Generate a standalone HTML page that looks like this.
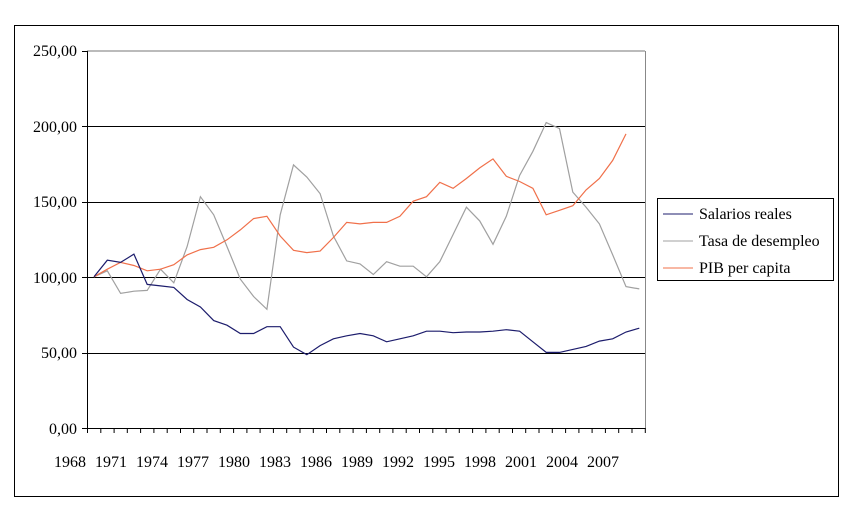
<!DOCTYPE html>
<html><head><meta charset="utf-8"><style>
body{margin:0;background:#fff;width:850px;height:511px;overflow:hidden}
svg{font-family:"Liberation Serif",serif;}
</style></head><body>
<svg id="s" width="850" height="511" xmlns="http://www.w3.org/2000/svg">
<rect x="14.5" y="25.5" width="824" height="471" fill="none" stroke="#000" stroke-width="1"/>
<g stroke="#000" stroke-width="1">
<line x1="87" y1="51" x2="645" y2="51" stroke="#777"/>
<line x1="87" y1="126.5" x2="645" y2="126.5"/>
<line x1="87" y1="202.5" x2="645" y2="202.5"/>
<line x1="87" y1="277.5" x2="645" y2="277.5"/>
<line x1="87" y1="353.5" x2="645" y2="353.5"/>
<line x1="87.5" y1="51" x2="87.5" y2="429"/>
<line x1="645.5" y1="51" x2="645.5" y2="429" stroke="#888"/>
<line x1="82" y1="428.5" x2="645" y2="428.5"/>
<line x1="82" y1="51.5" x2="87" y2="51.5"/>
<line x1="82" y1="126.5" x2="87" y2="126.5"/>
<line x1="82" y1="202.5" x2="87" y2="202.5"/>
<line x1="82" y1="277.5" x2="87" y2="277.5"/>
<line x1="82" y1="353.5" x2="87" y2="353.5"/>
</g>
<g id="ticks" stroke="#000"></g>
<g font-size="16" text-anchor="end" fill="#000">
<text x="77" y="56">250,00</text>
<text x="77" y="132">200,00</text>
<text x="77" y="207">150,00</text>
<text x="77" y="283">100,00</text>
<text x="77" y="358">50,00</text>
<text x="77" y="434">0,00</text>
</g>
<g id="xl" font-size="16" text-anchor="middle"></g>
<polyline id="t" fill="none" stroke="#a0a0a0" stroke-width="1.2"/>
<polyline id="p" fill="none" stroke="#f0704a" stroke-width="1.2"/>
<polyline id="w" fill="none" stroke="#1c1c6c" stroke-width="1.2"/>
<rect x="657.5" y="198.5" width="176" height="82" fill="#fff" stroke="#000"/>
<line x1="663" y1="214" x2="693" y2="214" stroke="#1c1c6c"/>
<line x1="663" y1="241" x2="693" y2="241" stroke="#a0a0a0"/>
<line x1="663" y1="268" x2="693" y2="268" stroke="#f0704a"/>
<g font-size="16"><text x="699" y="219">Salarios reales</text><text x="699" y="246">Tasa de desempleo</text><text x="699" y="273">PIB per capita</text></g>
</svg>
<script>
var W=[100,111,109.5,115,95,94,93,85,80,71,68,62.5,62.5,67,67,53.5,48.5,54.5,59,61,62.5,61,57,59,61,64,64,63,63.5,63.5,64,65,64,57,50,50,52,54,57.5,59,63.5,66];
var T=[100,104,89,90.5,91,105,96,120,153,141,120,98.5,87,78.5,141,174,166,155,127,110.5,108.5,101.5,110,107,107,100,110,128,146,137,121.5,140,167,183,202,198,156,146,135,114.5,93.5,92];
var P=[100,105,109.5,107.5,104,105,108,114.5,118,119.5,124.5,131,138.5,140,127,117.5,116,117,126,136,135,136,136,140,150,153,162.5,158.5,165,172,178,166.5,163,158.5,141,144,147,157.5,165,177,194.5];
function pts(a){return a.map(function(v,i){return (94+13.3*i).toFixed(1)+","+(428-v*1.512).toFixed(1)}).join(" ")}
document.getElementById('w').setAttribute('points',pts(W));
document.getElementById('t').setAttribute('points',pts(T));
document.getElementById('p').setAttribute('points',pts(P));
var g=document.getElementById('ticks'),s='';
for(var i=0;i<=42;i++){var x=(87.5+13.28*i).toFixed(1);s+='<line x1="'+x+'" y1="428" x2="'+x+'" y2="433"/>';}
g.innerHTML=s;
var xl=document.getElementById('xl'),t='';
for(var k=0;k<14;k++){t+='<text x="'+(70+41*k)+'" y="467">'+(1968+3*k)+'</text>';}
xl.innerHTML=t;
</script>
</body></html>
